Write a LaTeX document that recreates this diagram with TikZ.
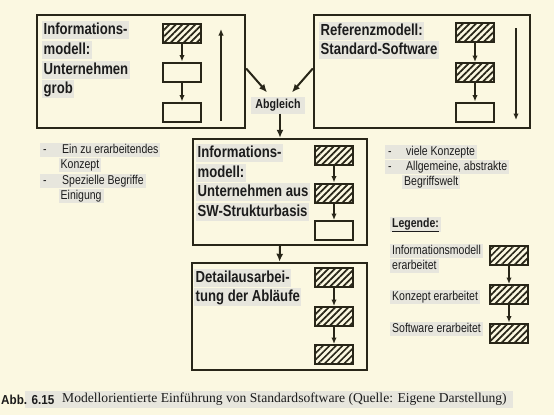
\documentclass[tikz,border=0pt]{standalone}
\usepackage{fontspec}
\setmainfont{Liberation Sans}
\newfontfamily\nar[FakeStretch=0.82]{Liberation Sans}
\newfontfamily\capsans[FakeStretch=0.9]{Liberation Sans}
\newfontfamily\capserif{Liberation Serif}
\usetikzlibrary{arrows.meta,patterns.meta,calc}
\definecolor{bgc}{RGB}{251,248,225}
\definecolor{hlc}{RGB}{231,230,221}
\definecolor{ink}{RGB}{40,38,24}
\definecolor{txt}{RGB}{28,28,28}
\tikzset{
  bigbox/.style={draw=ink, line width=2.4pt, inner sep=0pt},
  hbox/.style={draw=ink, line width=2pt, minimum width=38pt, minimum height=19pt, inner sep=0pt,
    pattern={Lines[angle=45,distance=4.6pt,line width=1.7pt]}, pattern color=ink},
  wbox/.style={draw=ink, line width=2pt, minimum width=38pt, minimum height=19pt, inner sep=0pt},
  sarr/.style={draw=ink, line width=1.6pt, -{Latex[length=6.5pt,width=5.5pt]}},
  barr/.style={draw=ink, line width=2pt, -{Latex[length=8pt,width=7pt]}},
  tline/.style={fill=hlc, anchor=west, inner xsep=1.5pt, inner ysep=0pt, text height=13.5pt, text depth=4.5pt,
    font=\nar\bfseries\fontsize{16}{19}\selectfont, text=txt},
  nline/.style={fill=hlc, anchor=west, inner xsep=2pt, inner ysep=0pt, text height=10.5pt, text depth=3.5pt,
    font=\nar\fontsize{12.8}{15}\selectfont, text=txt},
  lbold/.style={fill=hlc, anchor=west, inner xsep=2pt, inner ysep=0pt, text height=11pt, text depth=4pt,
    font=\nar\bfseries\fontsize{12.8}{15}\selectfont, text=txt},
}
\begin{document}
\begin{tikzpicture}[x=1pt,y=-1pt]
\fill[bgc] (0,0) rectangle (554,415);
\useasboundingbox (0,0) rectangle (554,415);

% big boxes
\node[bigbox, minimum width=208pt, minimum height=113pt] (b1) at (141,71.5) {};
\node[bigbox, minimum width=216pt, minimum height=113pt] (b2) at (422,71.5) {};
\node[bigbox, minimum width=174pt, minimum height=106pt] (b3) at (280,192) {};
\node[bigbox, minimum width=175pt, minimum height=107pt] (b4) at (279.5,316.5) {};

% box 1 content
\node[tline] (t1a) at (42,30) {Informations-};
\node[tline] (t1b) at (42,50) {modell:};
\node[tline] (t1c) at (42,70) {Unternehmen};
\node[tline] (t1d) at (42,89) {grob};
\node[hbox] (k1a) at (182,33) {};
\node[wbox] (k1b) at (182,72) {};
\node[wbox] (k1c) at (182,112) {};
\draw[sarr] (k1a.south) -- (k1b.north);
\draw[sarr] (k1b.south) -- (k1c.north);
\coordinate (u1a) at (221,121);
\coordinate (u1b) at (221,29);
\draw[sarr] (u1a) -- (u1b);

% box 2 content
\node[tline] (t2a) at (319,31) {Referenzmodell:};
\node[tline] (t2b) at (319,50) {Standard-Software};
\node[hbox] (k2a) at (475,32.5) {};
\node[hbox] (k2b) at (475,72.5) {};
\node[wbox] (k2c) at (475,112) {};
\draw[sarr] (k2a.south) -- (k2b.north);
\draw[sarr] (k2b.south) -- (k2c.north);
\coordinate (d2a) at (516,28);
\coordinate (d2b) at (516,120);
\draw[sarr] (d2a) -- (d2b);

% Abgleich
\node[lbold, anchor=center, font=\nar\bfseries\fontsize{13}{15}\selectfont, inner xsep=4pt, text height=12pt, text depth=5pt] (abg) at (278,105) {Abgleich};
\draw[barr] ($(b1.east)+(0,-3)$) -- ($(abg.north)+(-11,-4)$);
\draw[barr] ($(b2.west)+(0,-3)$) -- ($(abg.north)+(14,-4)$);
\draw[barr] (abg.south -| b3.north) -- (b3.north);

% box 3 content
\node[tline] (t3a) at (196,153) {Informations-};
\node[tline] (t3b) at (196,173) {modell:};
\node[tline] (t3c) at (196,192) {Unternehmen aus};
\node[tline] (t3d) at (196,212) {SW-Strukturbasis};
\node[hbox] (k3a) at (334,155) {};
\node[hbox] (k3b) at (334,193) {};
\node[wbox] (k3c) at (334,230.5) {};
\draw[sarr] (k3a.south) -- (k3b.north);
\draw[sarr] (k3b.south) -- (k3c.north);
\draw[barr] (b3.south) -- (b4.north);

% box 4 content
\node[tline] (t4a) at (194,278) {Detailausarbei-};
\node[tline] (t4b) at (194,297) {tung der Abläufe};
\node[hbox] (k4a) at (334,277.5) {};
\node[hbox] (k4b) at (334,316.5) {};
\node[hbox] (k4c) at (334,354.5) {};
\draw[sarr] (k4a.south) -- (k4b.north);
\draw[sarr] (k4b.south) -- (k4c.north);

% left notes
\node[nline] (n1a) at (40,150) {\makebox[20pt][l]{\hspace{1pt}-}Ein zu erarbeitendes};
\node[nline] (n1b) at (58.5,165) {Konzept};
\node[nline] (n1c) at (40,181) {\makebox[20pt][l]{\hspace{1pt}-}Spezielle Begriffe};
\node[nline] (n1d) at (58.5,196) {Einigung};

% right notes
\node[nline] (n2a) at (385,152) {\makebox[19pt][l]{\hspace{1pt}-}viele Konzepte};
\node[nline] (n2b) at (385,167) {\makebox[19pt][l]{\hspace{1pt}-}Allgemeine, abstrakte};
\node[nline] (n2c) at (402,182) {Begriffswelt};

% legend
\node[lbold] (lg) at (390,224) {\underline{Legende:}};
\node[nline] (l1a) at (390,251) {Informationsmodell};
\node[nline] (l1b) at (390,265.5) {erarbeitet};
\node[nline] (l2) at (390,297) {Konzept erarbeitet};
\node[nline] (l3) at (390,328.5) {Software erarbeitet};
\node[hbox] (g1) at (509,255.5) {};
\node[hbox] (g2) at (509,294.5) {};
\node[hbox] (g3) at (509,333) {};
\draw[sarr] (g1.south) -- (g2.north);
\draw[sarr] (g2.south) -- (g3.north);

% caption
\node[fill=hlc, minimum width=488pt, minimum height=17pt, inner sep=0pt] (capbg) at (269,399.5) {};
\node[anchor=west, inner sep=0pt, text=txt, font=\capsans\bfseries\fontsize{13}{16}\selectfont] (cap1) at (1,399.5) {Abb. 6.15};
\node[anchor=west, inner sep=0pt, text=txt, font=\capserif\fontsize{13.6}{16}\selectfont] (cap2) at (62,399.5) {Modellorientierte Einführung von Standardsoftware (Quelle: Eigene Darstellung)};
\end{tikzpicture}
\end{document}
